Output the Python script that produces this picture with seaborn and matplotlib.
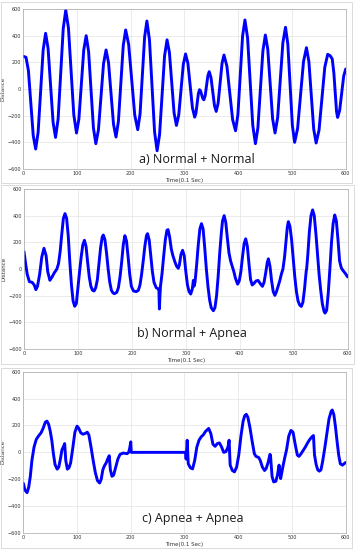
import matplotlib.pyplot as plt
import pandas as pd
import seaborn as sns
from matplotlib.patches import Rectangle

# a) Normal + Normal
a_time = [0, 5, 9.5, 14, 18.5, 23, 27.6, 32.3, 36.9, 41.5, 46.1, 50.8, 55.4, 60, 64.8, 69.5, 74.3, 79,
          84, 89, 94, 99, 103.5, 108, 112.5, 117, 121.5, 126, 130.5, 135, 139.8, 144.5, 149.3, 154,
          158.6, 163.3, 167.9, 172.5, 177, 181.5, 186, 190.5, 196.1, 201.8, 207.4, 213, 217.3, 221.5,
          225.8, 230, 234.8, 239.5, 244.3, 249, 253.6, 258.3, 262.9, 267.5, 271.9, 276.3, 280.6, 285,
          289.3, 293.5, 297.8, 302, 306.3, 310.5, 314.8, 319, 321.3, 323.5, 325.8, 328, 330, 332, 334,
          336, 338.5, 341, 343.5, 346, 349.3, 352.5, 355.8, 359, 362.6, 366.3, 369.9, 373.5, 378.9,
          384.3, 389.6, 395, 399.4, 403.8, 408.1, 412.5, 417.4, 422.3, 427.1, 432, 436.6, 441.3, 445.9,
          450.5, 455, 459.5, 464, 468.5, 473.4, 478.3, 483.1, 488, 492.3, 496.5, 500.8, 505, 510.5,
          516, 521.5, 527, 531.5, 536, 540.5, 545, 550.4, 555.8, 561.1, 566.5, 571, 575, 578, 581,
          583, 585, 588.8, 592.5, 596.3, 600]
a_dist = [245, 238, 138, -106, -350, -450, -323, -16, 291, 418, 304, 28, -249, -363, -224, 115, 453, 592,
          457, 131, -195, -330, -223, 35, 293, 400, 282, -5, -292, -410, -307, -58, 190, 293,
          198, -34, -265, -360, -243, 42, 326, 443, 334, 69, -196, -305, -186, 103,
          391, 510, 368, 23, -321, -463, -342, -47, 248, 369, 275, 48, -179, -273,
          -195, -5, 185, 263, 194, 26, -142, -211, -181, -108, -35, -5, -16, -43, -70,
          -81, -50, 25, 99, 130, 86, -19, -124, -168, -106, 44, 193, 255, 172,
          -29, -230, -313, -192, 103, 397, 518, 383, 54, -274, -410, -291, -2, 286,
          405, 298, 37, -223, -330, -214, 67, 347, 463, 337, 31, -274, -400, -296,
          -45, 206, 310, 206, -48, -301, -405, -308, -72, 163, 260, 250, 225, 120, -60,
          -170, -213, -160, -31, 97, 150]

# b) Normal + Apnea
b_time = [0, 3, 6, 10, 15, 19, 22, 25, 29, 33, 37, 41, 44, 48, 52, 56, 61, 64, 67, 70, 73, 76, 79, 82,
          85, 88, 91, 94, 97, 100, 103, 106, 109, 112, 115, 118, 121, 124, 127, 130, 133, 136, 139,
          142, 145, 147, 150, 153, 156, 159, 162, 165, 168, 172, 175, 178, 181, 184, 187, 190, 193,
          196, 199, 203, 208, 212, 215, 218, 221, 224, 227, 229, 232, 235, 238, 241, 245, 249, 250,
          251, 252, 253, 256, 259, 262, 265, 267, 270, 273, 276, 280, 283, 286, 288, 291, 294, 297,
          300, 303, 306, 309, 312, 314, 315, 317, 320, 323, 326, 329, 332, 335, 338, 341, 344, 347,
          351, 354, 357, 360, 363, 366, 368, 371, 374, 377, 380, 383, 386, 389, 392, 396, 399, 402,
          405, 408, 411, 414, 417, 420, 423, 426, 430, 434, 438, 442, 445, 448, 451, 453, 456, 459,
          462, 465, 468, 471, 474, 477, 480, 483, 486, 488, 490, 493, 496, 499, 502, 505, 508, 511,
          514, 517, 520, 523, 524, 526, 529, 532, 535, 538, 541, 544, 547, 550, 553, 556, 558, 561,
          564, 567, 570, 573, 576, 579, 582, 585, 588, 591, 595, 600]
b_dist = [130, 40, -40, -95, -100, -120, -155, -130, -40, 90, 155, 100, -20, -85, -60, -30, 0, 40, 130,
          260, 380, 415, 380, 250, 50, -120, -240, -280, -260, -140, -20, 90, 180, 215, 170, 50,
          -60, -130, -160, -165, -140, -80, 40, 160, 240, 255, 220, 120, 0, -100, -160, -180, -185,
          -175, -140, -60, 50, 180, 250, 210, 90, -40, -130, -165, -170, -160, -120, -40, 60, 170,
          250, 265, 220, 100, -20, -100, -140, -150, -150, -300, -200, -130, -30, 100, 220, 290,
          295, 240, 150, 100, 50, 20, 5, 30, 110, 140, 100, -20, -120, -170, -188, -150, -85, -130,
          -100, 30, 180, 300, 340, 300, 160, 0, -130, -230, -290, -313, -290, -200, -50, 130, 280,
          360, 400, 350, 230, 120, 60, 20, -20, -70, -114, -90, -20, 90, 190, 226, 170, 40, -80,
          -120, -110, -90, -86, -110, -130, -100, -30, 50, 76, 20, -90, -170, -198, -170, -130, -90,
          -40, 0, 90, 220, 310, 355, 320, 220, 80, -60, -170, -240, -270, -281, -250, -150, -20, 5,
          100, 280, 400, 443, 400, 270, 110, -40, -160, -260, -315, -331, -310, -180, 0, 200, 340,
          405, 360, 220, 60, 10, -10, -30, -60]

# c) Apnea + Apnea
c_time = [0, 3, 7, 10, 13, 16, 20, 24, 28, 33, 37, 41, 44, 47, 50, 53, 56, 59, 63, 66, 69, 72, 75, 77,
          79, 82, 85, 88, 92, 96, 100, 103, 107, 111, 115, 119, 122, 126, 130, 134, 138, 142, 145,
          148, 151, 154, 157, 160, 162, 165, 168, 172, 176, 180, 186, 193, 196, 198, 200, 201, 302,
          303, 305, 307, 311, 315, 319, 323, 327, 331, 335, 339, 345, 349, 353, 357, 361, 365, 369,
          373, 377, 381, 383, 385, 389, 393, 397, 401, 405, 409, 412, 415, 418, 422, 426, 430, 433,
          438, 441, 445, 449, 452, 456, 459, 460, 463, 466, 470, 473, 476, 479, 482, 486, 490, 494,
          498, 502, 506, 510, 513, 517, 521, 525, 529, 533, 537, 540, 542, 545, 548, 551, 554, 557,
          561, 565, 569, 573, 575, 578, 581, 584, 587, 590, 594, 600]
c_dist = [-230, -280, -300, -260, -180, -60, 40, 95, 120, 145, 180, 225, 232, 210, 160, 90, -10, -90,
          -125, -110, -50, 20, 45, 65, -60, -125, -115, -80, 30, 150, 195, 180, 145, 135, 140, 150,
          130, 40, -60, -150, -210, -228, -200, -130, -100, -80, -50, -25, -130, -178, -170, -110,
          -50, -15, -5, -10, 0, 30, 78, 0, 0, -50, 90, -85, -115, -123, -60, 40, 90, 115, 130, 155,
          178, 140, 60, 45, 65, 70, 40, 0, 5, 40, 90, -95, -135, -145, -110, -20, 120, 230, 272,
          283, 260, 180, 80, -10, -30, -38, -60, -110, -135, -120, -70, -15, -20, -180, -220, -215,
          -170, -95, -195, -130, -50, 20, 120, 163, 150, 60, -20, -30, -10, 15, 40, 70, 95, 115,
          125, -20, -90, -130, -140, -130, -70, 30, 140, 250, 305, 315, 280, 190, 80, -20, -85, -95,
          -75]

panels = [
    (a_time, a_dist, "a) Normal + Normal", [0.0653, 0.6927, 0.903, 0.2909], 0.538, 0.059),
    (b_time, b_dist, "b) Normal + Apnea", [0.0672, 0.3655, 0.9067, 0.2909], 0.52, 0.096),
    (c_time, c_dist, "c) Apnea + Apnea", [0.0653, 0.0309, 0.903, 0.2933], 0.525, 0.088),
]

# outer frames of the three pasted sub-pictures (figure fractions)
frames = [
    (0.003, 0.667, 0.983, 0.330),
    (0.003, 0.338, 0.988, 0.326),
    (0.003, 0.004, 0.983, 0.327),
]

sns.set_theme(style="whitegrid", rc={"grid.linewidth": 0.5, "grid.color": "#e3e3e3",
                                     "axes.edgecolor": "#a8a8a8", "axes.linewidth": 0.5})
plt.rcParams["font.family"] = ["DejaVu Sans"]

fig = plt.figure(figsize=(3.57, 5.5), dpi=100)

for x0, y0, w, h in frames:
    fig.patches.append(Rectangle((x0, y0), w, h, transform=fig.transFigure,
                                 fill=False, edgecolor="#d6d6d6", linewidth=0.6))

for t, d, label, pos, tx, ty in panels:
    ax = fig.add_axes(pos)
    df = pd.DataFrame({"Time": t, "Distance": d})
    sns.lineplot(data=df, x="Time", y="Distance", ax=ax, color="#0000ff",
                 linewidth=2.1, estimator=None, sort=False)
    ax.set_xlim(0, 600)
    ax.set_ylim(-600, 600)
    ax.set_xticks(range(0, 601, 100))
    ax.set_yticks(range(-600, 601, 200))
    ax.tick_params(labelsize=3.5, colors="#333333", length=0, pad=1.5)
    ax.set_xlabel("Time(0.1 Sec)", fontsize=4, labelpad=1.5, color="#333333")
    ax.set_ylabel("Distance", fontsize=4, labelpad=1.5, color="#333333")
    ax.text(tx, ty, label, transform=ax.transAxes, ha="center", va="center",
            fontsize=9, family="Open Sans", color="#1a1a1a")

fig.savefig("out.png", dpi=100)
